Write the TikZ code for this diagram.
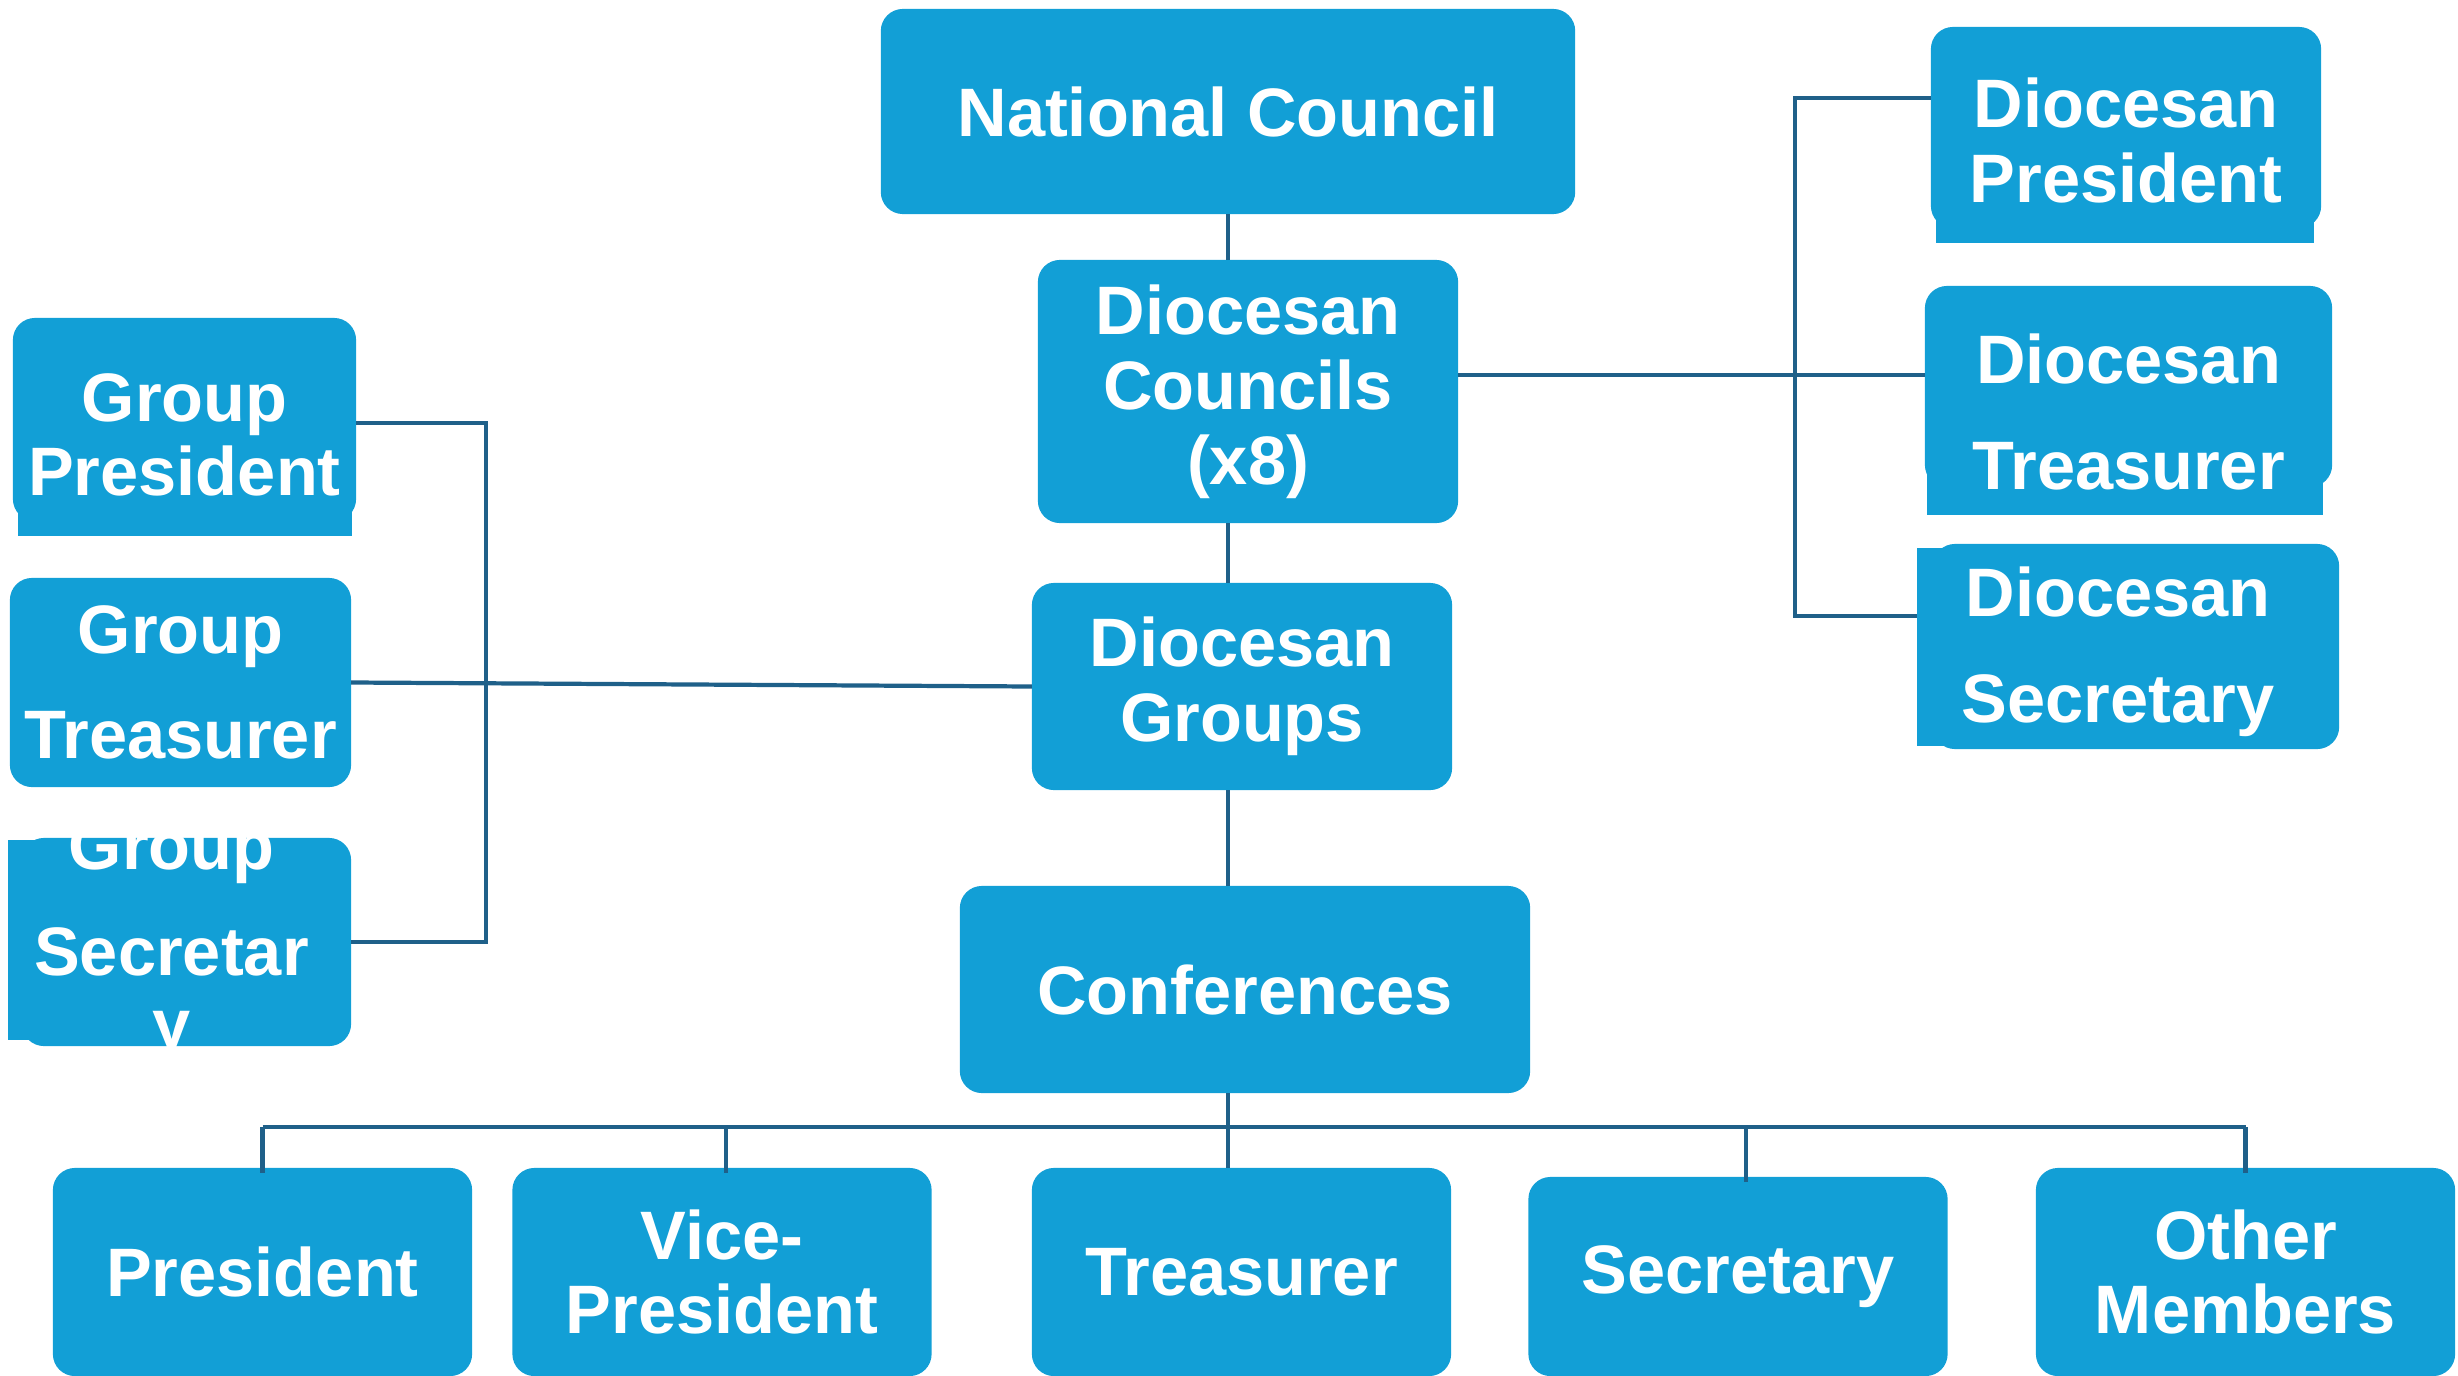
\documentclass[tikz,border=0pt]{standalone}
\usepackage{fontspec}
\setmainfont{Liberation Sans}

\definecolor{boxblue}{RGB}{18,159,214}
\definecolor{linkblue}{RGB}{31,96,137}

\newcommand{\boxfont}{\fontsize{19.5}{21.3}\selectfont\bfseries}
\newcommand{\wideboxfont}{\fontsize{19.5}{29.9}\selectfont\bfseries}

\begin{document}
\begin{tikzpicture}[x=0.01cm, y=-0.01cm]
    \tikzstyle{every node}=[inner sep=0pt, outer sep=0pt]
    \tikzstyle{box}=[rectangle, rounded corners=0.22cm, fill=boxblue, text=white, font=\boxfont, align=center]
    \tikzstyle{wide box}=[box, font=\wideboxfont]
    \tikzstyle{square box}=[wide box, sharp corners]
    \tikzstyle{patch}=[fill=boxblue]
    \tikzstyle{link}=[draw=linkblue, line width=1.2pt]
    % put the last line of a node's text #1/2 below its centre
    \tikzstyle{lower text}=[text height=#1, text depth=0pt, inner ysep=-#1/2]

    \useasboundingbox (0,0) rectangle (2458,1376);

    % Draw the middle column
    \node[box, minimum width=6.94cm, minimum height=2.05cm] (nc) at (1228,111.5) {National Council};
    \node[box, minimum width=4.20cm, minimum height=2.63cm] (dc) at (1248,391.5) {Diocesan\\Councils\\(x8)};
    \node[box, minimum width=4.20cm, minimum height=2.07cm] (dg) at (1242,686.5) {Diocesan\\Groups};
    \node[box, minimum width=5.70cm, minimum height=2.07cm] (conf) at (1245,989.5) {Conferences};

    % Draw the group officers on the left
    \fill[patch] (18,419.5) rectangle (352,536);
    \node[box, minimum width=3.43cm, minimum height=2.03cm, lower text=43.5pt] (gp) at (184.5,419.5) {Group\\President};
    \node[wide box, minimum width=3.41cm, minimum height=2.09cm] (gt) at (180.5,682.5) {Group\\Treasurer};
    \node[box, minimum width=3.29cm, minimum height=2.08cm] (gs-bg) at (186.5,942) {};
    \node[square box, minimum width=3.27cm, minimum height=2.00cm, lower text=60.9pt] (gs) at (171.5,940) {Group\\Secretar\\[-9.4pt]y};

    % Draw the diocesan officers on the right
    \fill[patch] (1936,127.5) rectangle (2314,243);
    \node[box, minimum width=3.90cm, minimum height=2.01cm, lower text=42.7pt] (dp) at (2126,127.5) {Diocesan\\President};
    \fill[patch] (1927,386.5) rectangle (2323,515);
    \node[wide box, minimum width=4.07cm, minimum height=2.01cm, lower text=58.3pt] (dt) at (2128.5,386.5) {Diocesan\\Treasurer};
    \node[box, minimum width=4.06cm, minimum height=2.05cm] (ds-bg) at (2136,646.5) {};
    \node[square box, minimum width=4.02cm, minimum height=1.98cm, lower text=42.7pt] (ds) at (2118,647) {Diocesan\\Secretary};

    % Draw the conference members
    \foreach \name/\x/\y/\h/\txt in {pres/262.5/1272/2.08/President, vp/722/1272/2.08/Vice-\\President,
        tre/1241.5/1272/2.08/Treasurer, sec/1738/1276.5/1.99/Secretary, om/2245.5/1272/2.08/Other\\Members}
        \node[box, minimum width=4.19cm, minimum height=\h cm] (\name) at (\x,\y) {\txt};

    % Connect the middle column
    \draw[link] (nc.south) -- (nc.south |- dc.north);
    \draw[link] (dc.south -| nc.south) -- (dg.north -| nc.south);
    \draw[link] (dg.south -| nc.south) -- (conf.north -| nc.south);
    \draw[link] (conf.south -| nc.south) -- (tre.north -| nc.south);

    % Connect the members to the bus
    \coordinate (bus) at (0,1127);
    \draw[link] (bus -| pres.north) -- (bus -| om.north);
    \foreach \name/\dx in {pres/0, vp/0.04, sec/0.08, om/0}
        \draw[link] ([xshift=\dx cm]\name.north |- bus) -- ([xshift=\dx cm,yshift=-0.05cm]\name.north);

    % Left bracket
    \coordinate (lb-top) at (486,423);
    \coordinate (lb-bot) at (486,942);
    \draw[link] (lb-top -| gp.east) -- (lb-top) -- (lb-bot) -- (lb-bot -| gs-bg.east);
    \draw[link] (gt.east) -- (dg.west);

    % Right bracket
    \coordinate (rb-top) at (1795,98);
    \coordinate (rb-mid) at (1795,375);
    \coordinate (rb-bot) at (1795,616);
    \draw[link] (rb-top -| dp.west) -- (rb-top) -- (rb-bot) -- (rb-bot -| ds.west);
    \draw[link] (rb-mid -| dc.east) -- (rb-mid -| dt.west);
\end{tikzpicture}
\end{document}
